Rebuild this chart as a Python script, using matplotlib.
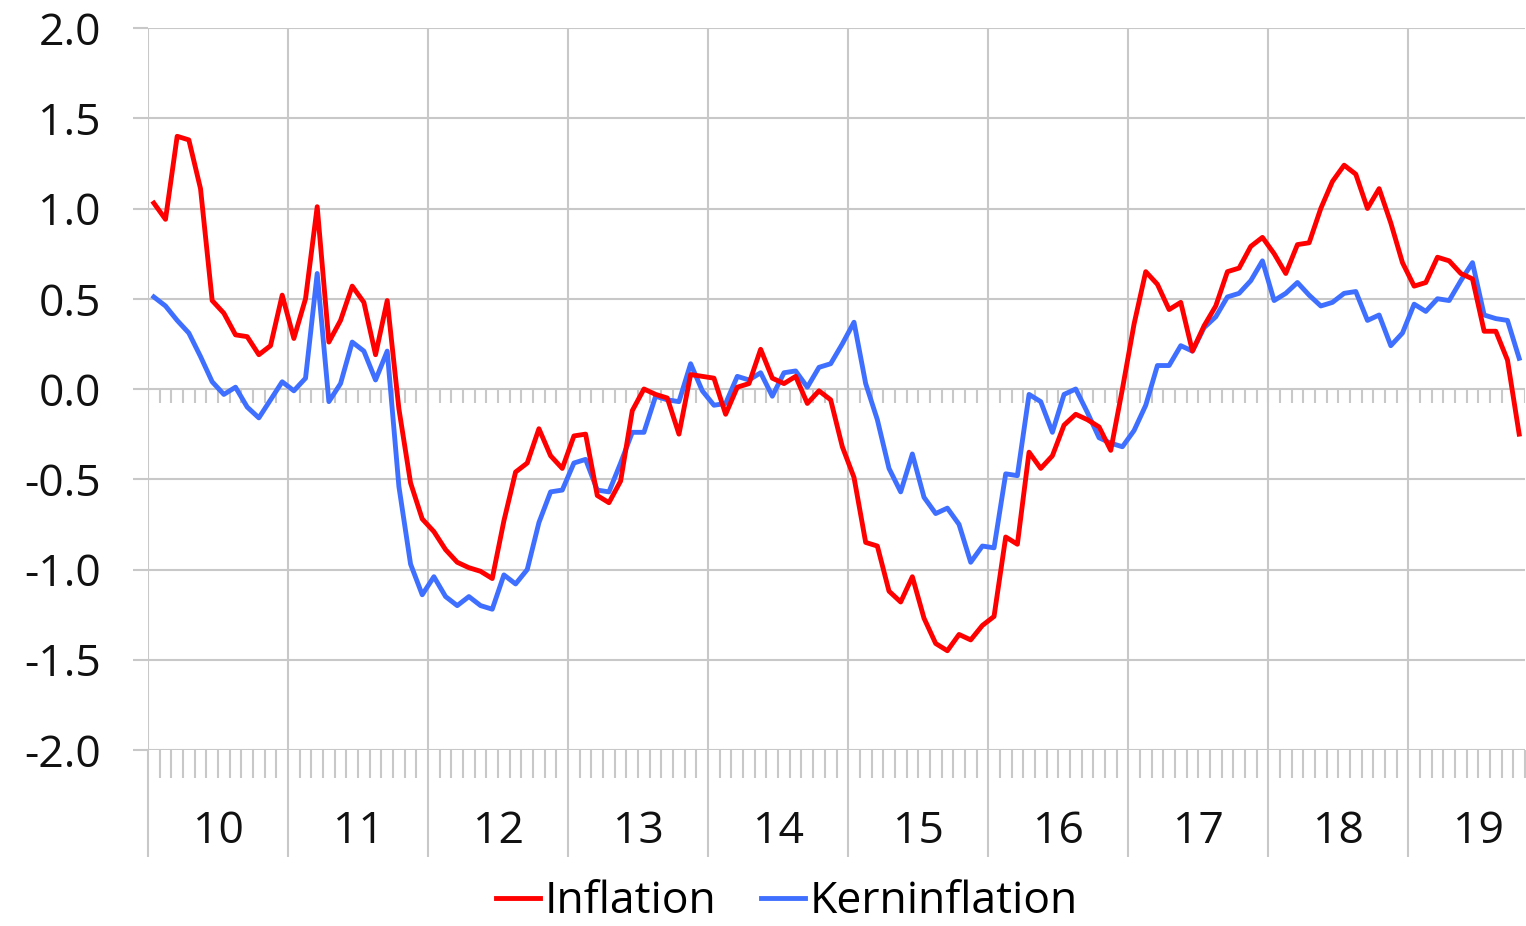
import matplotlib
matplotlib.use("Agg")
import matplotlib.pyplot as plt
from matplotlib.transforms import blended_transform_factory

plt.rcParams["font.family"] = ["Open Sans", "DejaVu Sans"]

# monthly values, Jan 2010 .. Oct 2019
inflation = [
    1.03, 0.94, 1.40, 1.38, 1.11, 0.49, 0.42, 0.30, 0.29, 0.19, 0.24, 0.52,
    0.28, 0.50, 1.01, 0.26, 0.38, 0.57, 0.48, 0.19, 0.49, -0.11, -0.52, -0.72,
    -0.79, -0.89, -0.96, -0.99, -1.01, -1.05, -0.73, -0.46, -0.41, -0.22, -0.37, -0.44,
    -0.26, -0.25, -0.59, -0.63, -0.51, -0.12, 0.00, -0.03, -0.05, -0.25, 0.08, 0.07,
    0.06, -0.14, 0.01, 0.03, 0.22, 0.06, 0.03, 0.07, -0.08, -0.01, -0.06, -0.32,
    -0.49, -0.85, -0.87, -1.12, -1.18, -1.04, -1.27, -1.41, -1.45, -1.36, -1.39, -1.31,
    -1.26, -0.82, -0.86, -0.35, -0.44, -0.37, -0.20, -0.14, -0.17, -0.21, -0.34, 0.00,
    0.36, 0.65, 0.58, 0.44, 0.48, 0.21, 0.35, 0.46, 0.65, 0.67, 0.79, 0.84,
    0.75, 0.64, 0.80, 0.81, 1.00, 1.15, 1.24, 1.19, 1.00, 1.11, 0.92, 0.70,
    0.57, 0.59, 0.73, 0.71, 0.64, 0.61, 0.32, 0.32, 0.16, -0.25,
]
kerninflation = [
    0.51, 0.46, 0.38, 0.31, 0.18, 0.04, -0.03, 0.01, -0.10, -0.16, -0.06, 0.04,
    -0.01, 0.06, 0.64, -0.07, 0.03, 0.26, 0.21, 0.05, 0.21, -0.54, -0.97, -1.14,
    -1.04, -1.15, -1.20, -1.15, -1.20, -1.22, -1.03, -1.08, -1.00, -0.74, -0.57, -0.56,
    -0.41, -0.39, -0.56, -0.57, -0.41, -0.24, -0.24, -0.04, -0.06, -0.07, 0.14, -0.01,
    -0.09, -0.08, 0.07, 0.05, 0.09, -0.04, 0.09, 0.10, 0.01, 0.12, 0.14, 0.25,
    0.37, 0.03, -0.17, -0.44, -0.57, -0.36, -0.60, -0.69, -0.66, -0.75, -0.96, -0.87,
    -0.88, -0.47, -0.48, -0.03, -0.07, -0.24, -0.03, 0.00, -0.13, -0.27, -0.30, -0.32,
    -0.23, -0.09, 0.13, 0.13, 0.24, 0.21, 0.34, 0.40, 0.51, 0.53, 0.60, 0.71,
    0.49, 0.53, 0.59, 0.52, 0.46, 0.48, 0.53, 0.54, 0.38, 0.41, 0.24, 0.31,
    0.47, 0.43, 0.50, 0.49, 0.60, 0.70, 0.41, 0.39, 0.38, 0.17,
]
year_labels = ["10", "11", "12", "13", "14", "15", "16", "17", "18", "19"]

RED = "#ff0000"
BLUE = "#3f6fff"
GRID = "#c8c8c8"
FS = 32

n = len(inflation)
months = [i + 0.5 for i in range(n)]

fig = plt.figure(figsize=(15.26, 9.26), dpi=100)
ax = fig.add_axes([148 / 1526, 176 / 926, 1377 / 1526, 722 / 926])

ax.plot(months, inflation, color=RED, lw=3.5, label="Inflation", zorder=4)
ax.plot(months, kerninflation, color=BLUE, lw=3.5, label="Kerninflation", zorder=3)

ax.set_xlim(0, n)
ax.set_ylim(-2.0, 2.0)
ax.set_yticks([-2.0 + 0.5 * k for k in range(9)])
ax.set_yticklabels([f"{-2.0 + 0.5 * k:.1f}" for k in range(9)])

ax.set_xticks([12 * k for k in range(len(year_labels))])
ax.set_xticklabels([])
ax.set_xticks(range(n + 1), minor=True)

ax.grid(True, which="major", color=GRID, lw=1.5, zorder=0)
for sp in ax.spines.values():
    sp.set_visible(False)

ax.tick_params(axis="y", length=11, width=1.5, color=GRID, pad=23,
               labelsize=FS, labelcolor="#111111")
ax.tick_params(axis="x", which="major", length=77, width=1.5, color=GRID)
ax.tick_params(axis="x", which="minor", length=20, width=1.5, color=GRID)

# short month ticks on the zero line
ax.vlines(range(n + 1), -0.08, 0, color=GRID, lw=1.5, zorder=1)

# year labels centred under each year
trans = blended_transform_factory(ax.transData, ax.transAxes)
for k, lab in enumerate(year_labels):
    ax.text(12 * k + 6, -0.113, lab, transform=trans, ha="center", va="center",
            fontsize=FS, color="#111111")

fig.legend(loc="center", bbox_to_anchor=(787 / 1526, 24 / 926), ncol=2,
           frameon=False, fontsize=FS, handlelength=1.0, handletextpad=0.1,
           columnspacing=1.0, borderpad=0.1)

fig.savefig("out.png", dpi=100)
